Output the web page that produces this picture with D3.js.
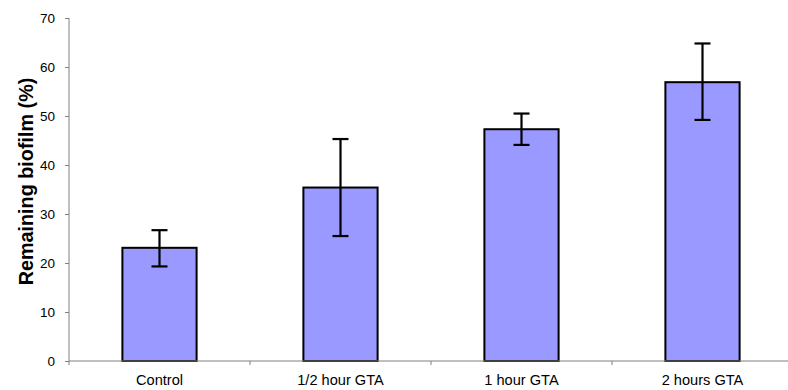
<!DOCTYPE html>
<html><head><meta charset="utf-8">
<script src="https://cdn.jsdelivr.net/npm/d3@7"></script>
<style>html,body{margin:0;padding:0;background:#fff}svg{display:block}</style>
</head><body>
<svg id="c" width="788" height="390"></svg>
<script>
const categories = ["Control", "1/2 hour GTA", "1 hour GTA", "2 hours GTA"];
const values = [23.1, 35.4, 47.3, 56.9];
const errLow = [19.3, 25.5, 44.1, 49.2];
const errHigh = [26.7, 45.3, 50.5, 64.8];
const yTicks = [0, 10, 20, 30, 40, 50, 60, 70];

const svg = d3.select("#c");
const mLeft = 69, mRight = 793, mTop = 18, mBottom = 361;
const x = d3.scaleBand().domain(categories).range([mLeft, mRight]).paddingInner(0.59).paddingOuter(0.295);
const y = d3.scaleLinear().domain([0, 70]).range([mBottom, mTop]);
const font = "'Liberation Sans', Arial, sans-serif";

// bars
svg.selectAll("rect.bar").data(categories).enter().append("rect")
  .attr("x", d => x(d)).attr("width", x.bandwidth())
  .attr("y", (d, i) => y(values[i])).attr("height", (d, i) => y(0) - y(values[i]))
  .attr("fill", "#9999FF").attr("stroke", "#000").attr("stroke-width", 2);

// axes
const yAxis = d3.axisLeft(y).tickValues(yTicks).tickSize(4).tickPadding(10);
const gy = svg.append("g").attr("transform", `translate(${mLeft},0)`).call(yAxis);
gy.select(".domain").attr("stroke", "#808080").attr("d", `M0,${mTop}V${mBottom + 4}`);
gy.selectAll(".tick line").attr("stroke", "#808080");
gy.selectAll(".tick text").attr("font-family", font).attr("font-size", 13.5).attr("fill", "#000");

const xAxis = d3.axisBottom(x).tickSize(0).tickPadding(14);
const gx = svg.append("g").attr("transform", `translate(0,${mBottom})`).call(xAxis);
gx.select(".domain").attr("stroke", "#808080").attr("d", `M${mLeft},0H${mRight}`);
gx.selectAll(".tick text").attr("font-family", font).attr("font-size", 14.6).attr("fill", "#000");
// category boundary tick marks
gx.selectAll("line.bnd").data(d3.range(1, categories.length)).enter().append("line")
  .attr("x1", i => mLeft + i * x.step()).attr("x2", i => mLeft + i * x.step())
  .attr("y1", 0).attr("y2", 4).attr("stroke", "#808080");

// error bars
const cx = d => x(d) + x.bandwidth() / 2;
const eb = svg.append("g").attr("stroke", "#000").attr("stroke-width", 2.2);
eb.selectAll("line.v").data(categories).enter().append("line")
  .attr("x1", cx).attr("x2", cx)
  .attr("y1", (d, i) => y(errLow[i])).attr("y2", (d, i) => y(errHigh[i]));
eb.selectAll("line.lo").data(categories).enter().append("line")
  .attr("x1", d => cx(d) - 8).attr("x2", d => cx(d) + 8)
  .attr("y1", (d, i) => y(errLow[i])).attr("y2", (d, i) => y(errLow[i]));
eb.selectAll("line.hi").data(categories).enter().append("line")
  .attr("x1", d => cx(d) - 8).attr("x2", d => cx(d) + 8)
  .attr("y1", (d, i) => y(errHigh[i])).attr("y2", (d, i) => y(errHigh[i]));

// y title
svg.append("text").attr("transform", `translate(33,${(78 + 285) / 2}) rotate(-90)`)
  .attr("text-anchor", "middle").attr("font-family", font).attr("font-weight", "bold")
  .attr("font-size", 19.8).text("Remaining biofilm (%)");
</script>
</body></html>
